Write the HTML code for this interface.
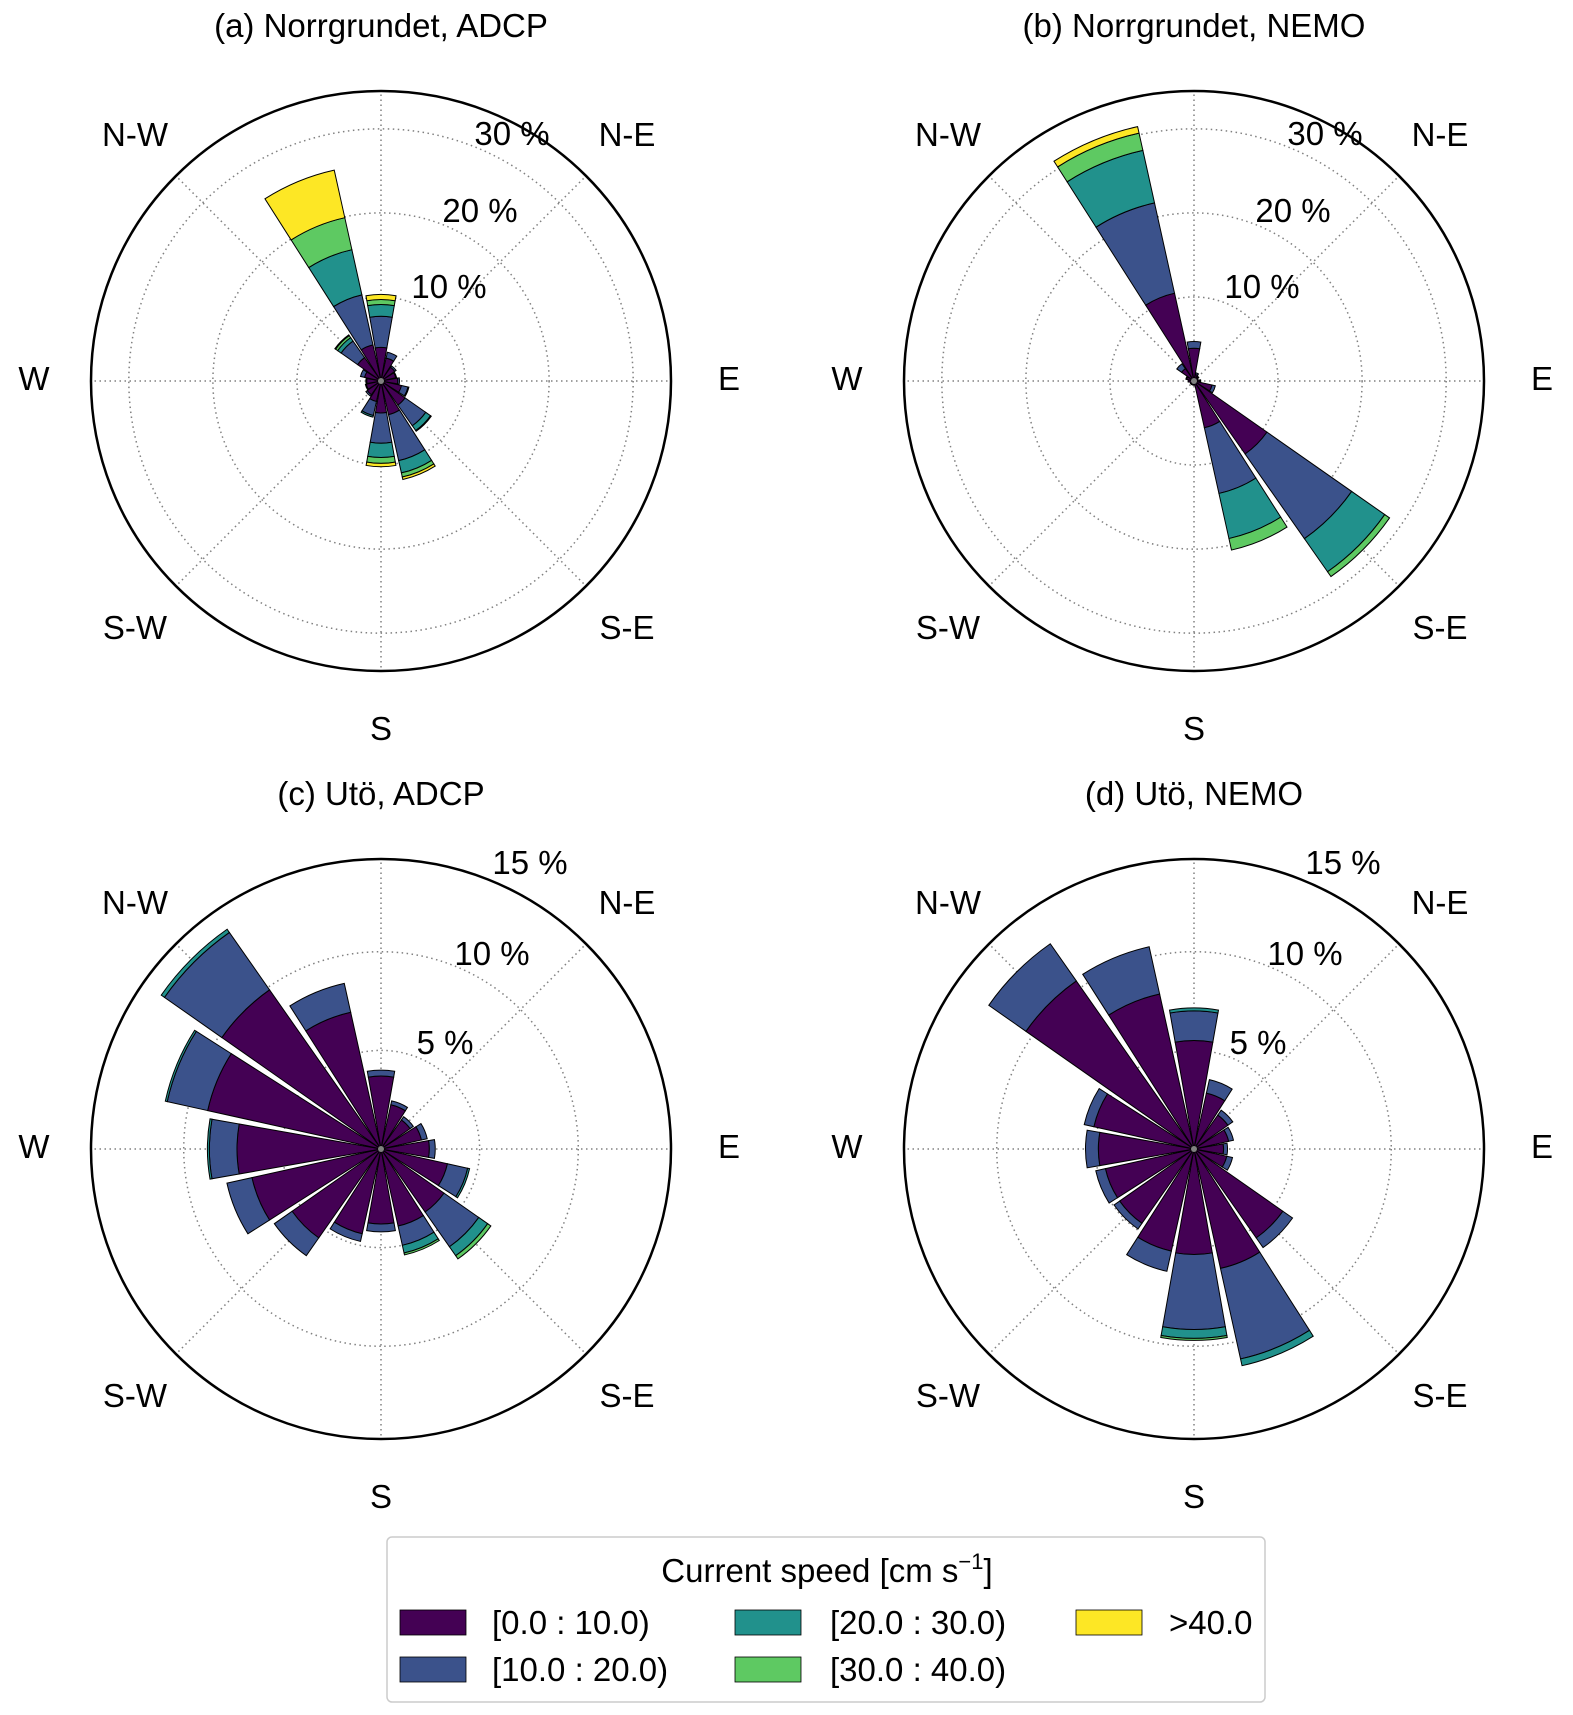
<!DOCTYPE html>
<html><head><meta charset="utf-8"><style>
html,body{margin:0;padding:0;background:#fff;}
svg{display:block;font-family:"Liberation Sans",Arial,sans-serif;}
</style></head><body>
<svg id="fig" width="1573" height="1715" viewBox="0 0 1573 1715" xmlns="http://www.w3.org/2000/svg">
<g>
<rect x="387" y="1537" width="878" height="165" rx="5" fill="#fff" stroke="#cccccc" stroke-width="1.5"/>
<text x="827" y="1582" font-size="33" text-anchor="middle">Current speed [cm s<tspan font-size="22" dy="-13">−1</tspan><tspan dy="13">]</tspan></text>
<rect x="400" y="1610" width="66" height="25" fill="#440154" stroke="#000" stroke-width="0.8"/>
<text x="492" y="1634" font-size="33">[0.0 : 10.0)</text>
<rect x="400" y="1657" width="66" height="25" fill="#3b528b" stroke="#000" stroke-width="0.8"/>
<text x="492" y="1681" font-size="33">[10.0 : 20.0)</text>
<rect x="735" y="1610" width="66" height="25" fill="#21918c" stroke="#000" stroke-width="0.8"/>
<text x="830" y="1634" font-size="33">[20.0 : 30.0)</text>
<rect x="735" y="1657" width="66" height="25" fill="#5ec962" stroke="#000" stroke-width="0.8"/>
<text x="830" y="1681" font-size="33">[30.0 : 40.0)</text>
<rect x="1076" y="1610" width="66" height="25" fill="#fde725" stroke="#000" stroke-width="0.8"/>
<text x="1169" y="1634" font-size="33">&gt;40.0</text>
</g>
</svg>
<script>
// Direction sectors N, NNE, ..., NNW
const directions = ["N","NNE","NE","ENE","E","ESE","SE","SSE","S","SSW","SW","WSW","W","WNW","NW","NNW"];
const speedClasses = ["[0.0 : 10.0)","[10.0 : 20.0)","[20.0 : 30.0)","[30.0 : 40.0)",">40.0"];
const colors = ["#440154","#3b528b","#21918c","#5ec962","#fde725"];

// (a) Norrgrundet ADCP, % per speed class
const a_s0 = [4.0,2.8,2.0,1.8,2.0,2.5,3.5,4.1,3.8,2.5,2.0,1.8,1.7,2.0,3.4,4.4];
const a_s1 = [3.7,0.7,0.2,0.1,0.2,0.8,3.0,5.6,3.6,1.7,0.2,0.1,0.1,0.5,2.4,6.1];
const a_s2 = [1.4,0,0,0,0,0.1,0.7,1.5,1.7,0.2,0,0,0,0,0.5,5.5];
const a_s3 = [0.6,0,0,0,0,0,0.1,0.5,0.7,0,0,0,0,0,0.3,3.9];
const a_s4 = [0.6,0,0,0,0,0,0,0.3,0.4,0,0,0,0,0,0.1,5.8];
// (b) Norrgrundet NEMO
const b_s0 = [3.9,0.8,0.6,0.5,0.7,2.2,10.6,5.7,0.5,0.5,0.5,0.5,0.7,0.9,1.8,10.7];
const b_s1 = [0.8,0.2,0.1,0,0.1,0.4,12.3,8.0,0,0,0,0,0,0.1,0.7,11.0];
const b_s2 = [0,0,0,0,0,0,4.8,5.5,0,0,0,0,0,0,0,6.4];
const b_s3 = [0,0,0,0,0,0,0.7,1.4,0,0,0,0,0,0,0,2.1];
const b_s4 = [0,0,0,0,0,0,0,0,0,0,0,0,0,0,0,0.8];
// (c) Utö ADCP
const c_s0 = [3.7,2.3,1.8,2.1,2.45,3.45,3.9,4.0,3.8,4.4,5.5,6.7,7.3,9.0,9.85,7.1];
const c_s1 = [0.3,0.2,0.2,0.3,0.3,1.05,2.15,1.0,0.4,0.4,1.1,1.3,1.4,2.1,3.55,1.5];
const c_s2 = [0,0,0,0,0,0.1,0.55,0.4,0,0,0,0,0.1,0.1,0.2,0];
const c_s3 = [0,0,0,0,0,0,0.2,0.1,0,0,0,0,0,0,0,0];
const c_s4 = [0,0,0,0,0,0,0,0,0,0,0,0,0,0,0,0];
// (d) Utö NEMO
const d_s0 = [5.5,2.9,2.1,1.8,1.5,1.7,5.5,6.2,5.35,5.3,4.6,4.6,4.85,5.2,10.4,8.05];
const d_s1 = [1.5,0.7,0.3,0.25,0.2,0.3,0.6,4.7,3.8,1.05,0.35,0.5,0.65,0.5,2.3,2.45];
const d_s2 = [0.15,0,0,0,0,0,0,0.35,0.45,0,0,0,0,0,0,0];
const d_s3 = [0,0,0,0,0,0,0,0,0.1,0,0,0,0,0,0,0];
const d_s4 = [0,0,0,0,0,0,0,0,0,0,0,0,0,0,0,0];

const topTicks = [10,20,30];
const topTickLabels = ["10 %","20 %","30 %"];
const botTicks = [5,10,15];
const botTickLabels = ["5 %","10 %","15 %"];

const NS = "http://www.w3.org/2000/svg";
const svg = document.getElementById("fig");
function mk(tag, attrs, parent){
  const e = document.createElementNS(NS, tag);
  for (const k in attrs) e.setAttribute(k, attrs[k]);
  parent.appendChild(e);
  return e;
}
const R = 290;
const compass = [["N-W",-246,-247],["N-E",246,-247],["W",-347,-3],["E",348,-3],["S-W",-246,246],["S-E",246,246],["S",0,347]];

function panel(id, title, cx, cy, rmax, ticks, tickLabels, tickPos, series){
  const g = mk("g", {}, svg);
  
  
  const rs = v => v / rmax * R;   // radial axis function
  const pt = (deg, r) => [cx + r*Math.sin(deg*Math.PI/180), cy - r*Math.cos(deg*Math.PI/180)];
  const t = mk("text", {x: cx, y: cy - 344, "font-size": 33, "text-anchor": "middle"}, g);
  t.textContent = title;
  
  
  ticks.forEach((v) => {
    if (rs(v) >= R - 2) return;
    const c = mk("circle", {cx, cy, r: rs(v), fill: "none", stroke: "#808080", "stroke-width": 1.5, "stroke-dasharray": "1.5,3.5"}, g);
    
    
  });
  for (let k = 0; k < 8; k++){
    const [x2, y2] = pt(k*45, R);
    const l = mk("line", {x1: cx, y1: cy, x2, y2, stroke: "#808080", "stroke-width": 1.5, "stroke-dasharray": "1.5,3.5"}, g);
    
    
  }
  const half = 10;
  directions.forEach((d, i) => {
    const ang = i * 22.5;
    let base = 0;
    series.forEach((arr, s) => {
      const v = arr[i];
      if (v <= 0) return;
      const r0 = rs(base), r1 = rs(base + v);
      base += v;
      const a0 = ang - half, a1 = ang + half;
      const p1 = pt(a0, r0), p2 = pt(a0, r1), p3 = pt(a1, r1), p4 = pt(a1, r0);
      const dpath = "M"+p1[0]+","+p1[1]+" L"+p2[0]+","+p2[1]+" A"+r1+","+r1+" 0 0 1 "+p3[0]+","+p3[1]+" L"+p4[0]+","+p4[1]+(r0>0?" A"+r0+","+r0+" 0 0 0 "+p1[0]+","+p1[1]:"")+" Z";
      const p = mk("path", {d: dpath, fill: colors[s], stroke: "#000", "stroke-width": 1}, g);
      
      
    });
  });
  const dot = mk("circle", {cx, cy, r: 3, fill: "#808080"}, g);
  
  
  const oc = mk("circle", {cx, cy, r: R, fill: "none", stroke: "#000", "stroke-width": 2.5}, g);
  
  
  compass.forEach(([lab, dx, dy]) => {
    const tt = mk("text", {x: cx+dx, y: cy+dy+12, "font-size": 33, "text-anchor": "middle"}, g);
    tt.textContent = lab;
    
    
  });
  tickLabels.forEach((lab, k) => {
    const tt = mk("text", {x: cx + tickPos[k][0], y: cy + tickPos[k][1] + 12, "font-size": 33, "text-anchor": "middle"}, g);
    tt.textContent = lab;
    
    
  });
}
const topPos = [[68,-95],[99,-171],[131,-248]];
const botPos = [[64,-107],[111,-196],[149,-287]];
panel("a", "(a) Norrgrundet, ADCP", 381, 381, 34.5, topTicks, topTickLabels, topPos, [a_s0,a_s1,a_s2,a_s3,a_s4]);
panel("b", "(b) Norrgrundet, NEMO", 1194, 381, 34.5, topTicks, topTickLabels, topPos, [b_s0,b_s1,b_s2,b_s3,b_s4]);
panel("c", "(c) Utö, ADCP", 381, 1149, 14.7, botTicks, botTickLabels, botPos, [c_s0,c_s1,c_s2,c_s3,c_s4]);
panel("d", "(d) Utö, NEMO", 1194, 1149, 14.7, botTicks, botTickLabels, botPos, [d_s0,d_s1,d_s2,d_s3,d_s4]);
</script>
</body></html>
